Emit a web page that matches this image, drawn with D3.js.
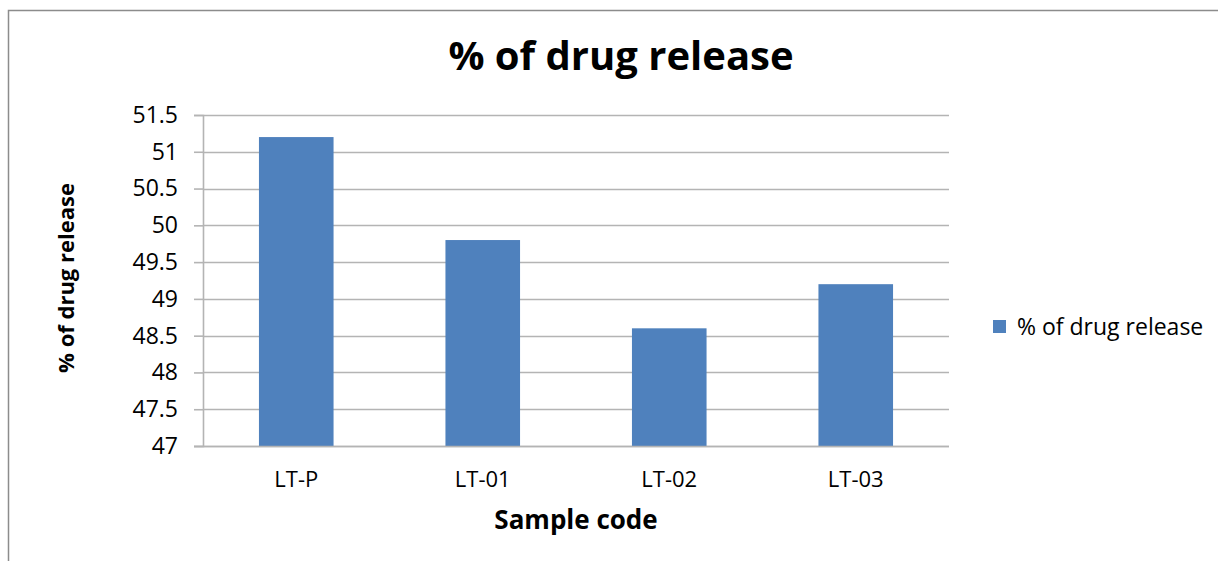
<!DOCTYPE html>
<html>
<head>
<meta charset="utf-8">
<script src="https://cdn.jsdelivr.net/npm/d3@7"></script>
<style>
  html, body { margin: 0; padding: 0; background: #fff; }
  svg { display: block; }
  text { font-family: "Open Sans", "Noto Sans", sans-serif; fill: #000; }
</style>
</head>
<body>
<svg id="chart" width="1218" height="561"></svg>
<script>
// Drug release per formulation
const categories = ["LT-P", "LT-01", "LT-02", "LT-03"];
const releaseValues = [51.2, 49.8, 48.6, 49.2];
const yTicks = [47, 47.5, 48, 48.5, 49, 49.5, 50, 50.5, 51, 51.5];
const seriesName = "% of drug release";

const W = 1218, H = 561;
const plot = { left: 203, right: 949, top: 115, bottom: 446 };
const barColor = "#4f81bd";
const gridColor = "#b4b4b4";
const labelColor = "#262626";

const svg = d3.select("#chart");

// outer chart frame (top and left edges are visible)
svg.append("path")
  .attr("d", `M8.5,${H} V10.5 H${W}`)
  .attr("fill", "none")
  .attr("stroke", "#8c8c8c")
  .attr("stroke-width", 1.5);

const x = d3.scaleBand()
  .domain(categories)
  .range([plot.left, plot.right])
  .paddingInner(0.6)
  .paddingOuter(0.3);

const y = d3.scaleLinear()
  .domain([47, 51.5])
  .range([plot.bottom, plot.top]);

// horizontal gridlines
svg.append("g")
  .selectAll("line")
  .data(yTicks)
  .join("line")
  .attr("x1", plot.left)
  .attr("x2", plot.right)
  .attr("y1", d => Math.round(y(d)) + 0.5)
  .attr("y2", d => Math.round(y(d)) + 0.5)
  .attr("stroke", gridColor)
  .attr("stroke-width", 1.6);

// y axis
const yAxis = svg.append("g")
  .attr("transform", `translate(${plot.left},0)`)
  .call(d3.axisLeft(y).tickValues(yTicks).tickSize(9).tickPadding(16).tickFormat(d3.format("")));
yAxis.select(".domain").attr("stroke", gridColor).attr("stroke-width", 1.6);
yAxis.selectAll(".tick line").attr("stroke", gridColor).attr("stroke-width", 1.6);
yAxis.selectAll(".tick text")
  .attr("font-size", 23)
  .attr("font-family", "\"Open Sans\", sans-serif")
  .attr("fill", labelColor);

// bars
svg.append("g")
  .selectAll("rect")
  .data(categories.map((c, i) => ({ c, v: releaseValues[i] })))
  .join("rect")
  .attr("x", d => x(d.c))
  .attr("width", x.bandwidth())
  .attr("y", d => y(d.v))
  .attr("height", d => y(47) - y(d.v))
  .attr("fill", barColor);

// x axis baseline
svg.append("line")
  .attr("x1", plot.left - 9).attr("x2", plot.right)
  .attr("y1", plot.bottom + 0.5).attr("y2", plot.bottom + 0.5)
  .attr("stroke", gridColor).attr("stroke-width", 1.6);

// category labels
svg.append("g")
  .selectAll("text")
  .data(categories)
  .join("text")
  .attr("x", d => x(d) + x.bandwidth() / 2)
  .attr("y", 487)
  .attr("text-anchor", "middle")
  .attr("font-size", 22)
  .attr("fill", labelColor)
  .text(d => d);

// title
svg.append("text")
  .attr("x", 621).attr("y", 70)
  .attr("text-anchor", "middle")
  .attr("font-size", 40)
  .attr("font-weight", "bold")
  .text(seriesName);

// axis titles
svg.append("text")
  .attr("x", 576).attr("y", 529)
  .attr("text-anchor", "middle")
  .attr("font-size", 26)
  .attr("font-weight", "bold")
  .text("Sample code");

svg.append("text")
  .attr("transform", "translate(74,278) rotate(-90)")
  .attr("text-anchor", "middle")
  .attr("font-size", 22)
  .attr("font-weight", "bold")
  .text(seriesName);

// legend
const legend = svg.append("g").attr("transform", "translate(993,320)");
legend.append("rect").attr("width", 13).attr("height", 13).attr("fill", barColor);
legend.append("text")
  .attr("x", 24).attr("y", 15)
  .attr("font-size", 23)
  .attr("fill", labelColor)
  .text(seriesName);
</script>
</body>
</html>
